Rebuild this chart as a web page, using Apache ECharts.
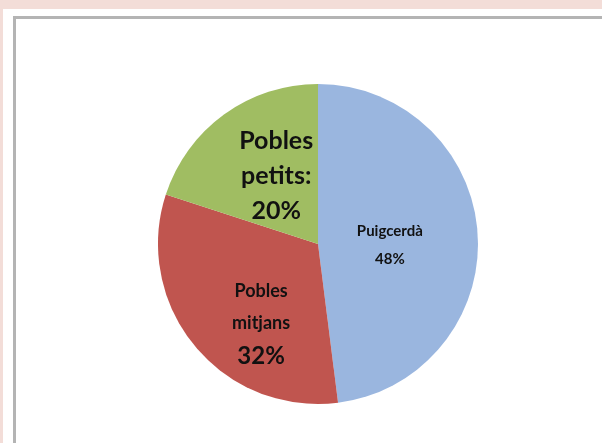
<!DOCTYPE html>
<html><head><meta charset="utf-8">
<script src="https://cdn.jsdelivr.net/npm/echarts@6/dist/echarts.min.js"></script>
<style>
html,body{margin:0;padding:0;width:602px;height:443px;overflow:hidden;background:#f3ddd8;}
#white{position:absolute;left:3px;top:9px;width:599px;height:434px;background:#fff;}
#frame{position:absolute;left:13px;top:16px;width:600px;height:424px;border-top:3px solid #b4b4b4;border-left:3px solid #b4b4b4;border-bottom:2px solid #e0e0e0;}
#chart{position:absolute;left:0;top:0;width:602px;height:443px;}
</style></head>
<body>
<div id="white"></div><div id="frame"></div>
<div id="chart"></div>
<script>
const categories = ['Puigcerdà', 'Pobles mitjans', 'Pobles petits'];
const values = [48, 32, 20];
const colors = ['#9ab6df', '#c0554f', '#a0bd62'];
const labelTexts = [
  '{a|Puigcerdà}\n{a|48%}',
  '{m|Pobles}\n{m|mitjans}\n{n|32%}',
  '{g|Pobles}\n{g|petits:}\n{g|20%}'
];
const labelOffsets = [[-11, 6], [7, 27], [7, -1]];

const font = 'Lato, "Open Sans", sans-serif';
const rich = {
  a: {fontSize: 15, fontWeight: 'bold', lineHeight: 28, color: '#111', fontFamily: font},
  m: {fontSize: 18, fontWeight: 'bold', lineHeight: 32, color: '#111', fontFamily: font},
  n: {fontSize: 24, fontWeight: 'bold', lineHeight: 34, color: '#111', fontFamily: font},
  g: {fontSize: 25, fontWeight: 'bold', lineHeight: 35, color: '#111', fontFamily: font}
};

const chart = echarts.init(document.getElementById('chart'));
chart.setOption({
  animation: false,
  series: [{
    type: 'pie',
    center: [318, 244],
    radius: 160,
    startAngle: 90,
    clockwise: true,
    silent: true,
    data: categories.map((c, i) => ({
      name: c,
      value: values[i],
      itemStyle: {color: colors[i]},
      label: {formatter: labelTexts[i], offset: labelOffsets[i]}
    })),
    label: {show: true, position: 'inside', rich: rich, align: 'center'},
    labelLine: {show: false},
    itemStyle: {borderWidth: 0}
  }]
});
</script>
</body></html>
